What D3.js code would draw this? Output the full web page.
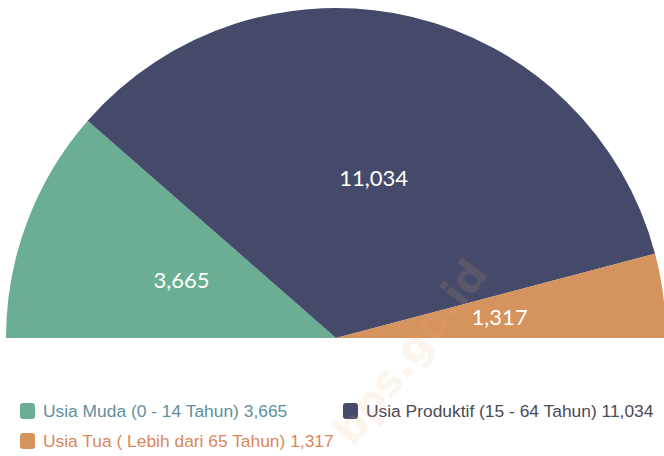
<!DOCTYPE html>
<html><head><meta charset="utf-8">
<script src="https://cdn.jsdelivr.net/npm/d3@7"></script>
<style>
html,body{margin:0;padding:0;background:#fff;}
svg{display:block;}
</style></head>
<body>
<svg id="chart" width="664" height="456"></svg>
<script>
const categories = ["Usia Muda (0 - 14 Tahun)", "Usia Produktif (15 - 64 Tahun)", "Usia Tua ( Lebih dari 65 Tahun)"];
const values = [3665, 11034, 1317];
const colors = ["#6aaf93", "#464a6a", "#d5935e"];
const legendTextColors = ["#5f8e9e", "#4a4a55", "#d9875a"];

const svg = d3.select("#chart");
const cx = 336, cy = 338, R = 330;
const fmt = d3.format(",");

const pie = d3.pie().sort(null).startAngle(-Math.PI/2).endAngle(Math.PI/2);
const arcs = pie(values);
const arc = d3.arc().innerRadius(0).outerRadius(R);

const g = svg.append("g").attr("transform", `translate(${cx},${cy})`);
g.selectAll("path").data(arcs).join("path")
  .attr("d", arc)
  .attr("fill", (d,i) => colors[i]);

g.selectAll("text").data(arcs).join("text")
  .attr("transform", d => `translate(${arc.centroid(d)})`)
  .attr("text-anchor", "middle")
  .attr("dominant-baseline", "central")
  .attr("font-family", "Lato, sans-serif")
  .attr("font-size", 22)
  .attr("fill", "#ffffff")
  .text(d => fmt(d.data));

// legend
const legendPos = [[20, 411], [343, 411], [20, 441]];
const lg = svg.append("g");
categories.forEach((c, i) => {
  const [x, y] = legendPos[i];
  lg.append("rect").attr("x", x).attr("y", y - 8).attr("width", 15).attr("height", 16)
    .attr("rx", 3).attr("fill", colors[i]);
  lg.append("text").attr("x", x + 23).attr("y", y)
    .attr("dominant-baseline", "central")
    .attr("font-family", "'Liberation Sans', Arial, sans-serif")
    .attr("font-size", 17.4)
    .attr("fill", legendTextColors[i])
    .text(c + " " + fmt(values[i]));
});

// watermark
svg.append("text")
  .attr("transform", "translate(410,352) rotate(-52)")
  .attr("text-anchor", "middle")
  .attr("dominant-baseline", "central")
  .attr("font-family", "'DejaVu Sans', sans-serif")
  .attr("font-weight", "bold")
  .attr("font-size", 42)
  .attr("fill", "#f0b070")
  .attr("opacity", 0.12)
  .text("bps.go.id");
</script>
</body></html>
